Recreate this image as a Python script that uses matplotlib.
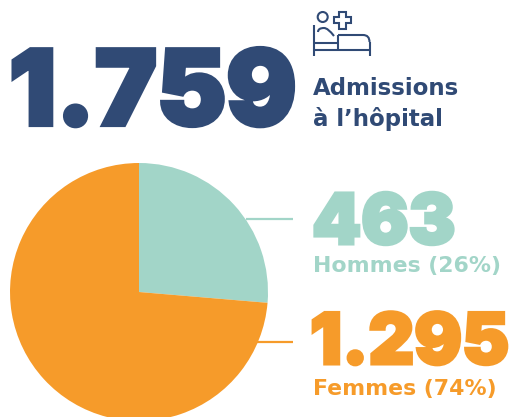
import matplotlib
matplotlib.use("Agg")
import matplotlib.pyplot as plt
import matplotlib.patheffects as pe
from matplotlib.patches import Circle, Polygon
from matplotlib.path import Path
from matplotlib.patches import PathPatch

W, H = 515, 417
NAVY = "#304a75"
TEAL = "#a2d5c8"
ORANGE = "#f69b2a"

categories = ["Hommes", "Femmes"]
values = [463, 1295]
colors = [TEAL, ORANGE]
total_label = "1.759"
title_lines = ["Admissions", "à l’hôpital"]
number_labels = ["463", "1.295"]
sub_labels = ["Hommes (26%)", "Femmes (74%)"]

fig = plt.figure(figsize=(W / 100, H / 100), dpi=100, facecolor="white")

# pie
R = 129
cx, cy = 139, 292
axp = fig.add_axes([(cx - R) / W, (H - cy - R) / H, 2 * R / W, 2 * R / H])
axp.pie(values, colors=colors, startangle=90, counterclock=False, radius=1,
        wedgeprops=dict(linewidth=0))
axp.set_xlim(-1, 1)
axp.set_ylim(-1, 1)
axp.set_aspect("equal")
axp.axis("off")

# overlay in pixel coordinates
ax = fig.add_axes([0, 0, 1, 1], facecolor="none")
ax.set_xlim(0, W)
ax.set_ylim(H, 0)
ax.axis("off")

def big(x, y, s, size, color, sw):
    return ax.text(x, y, s, fontsize=size, color=color, family=["Inter", "DejaVu Sans"],
                   fontweight="black", ha="left", va="baseline",
                   path_effects=[pe.withStroke(linewidth=sw, foreground=color, joinstyle="miter")])

def small(y, s, color, size=15.8):
    return ax.text(313, y, s, fontsize=size, color=color, family=["DejaVu Sans"],
                   fontweight="bold", va="baseline")

big(9, 125, total_label, 75, NAVY, 3.0)
big(312, 244, number_labels[0], 50.5, TEAL, 2.2)
big(310, 364, number_labels[1], 51, ORANGE, 2.2)

small(95, title_lines[0], NAVY, 16.5)
small(126, title_lines[1], NAVY, 16.5)
small(272, sub_labels[0], TEAL)
small(395, sub_labels[1], ORANGE)

# leader lines
ax.plot([246, 293], [219, 219], color=TEAL, lw=1.6, solid_capstyle="butt")
ax.plot([257, 293], [342, 342], color=ORANGE, lw=1.6, solid_capstyle="butt")

# bed icon
lw = 1.5
for xs, ys in [([313.5, 313.5], [25, 56]),
               ([313, 370], [50, 50]),
               ([369.5, 369.5], [42, 56]),
               ([313, 338], [43, 43]),
               ([338, 338], [35, 50])]:
    ax.plot(xs, ys, color=NAVY, lw=lw, solid_capstyle="butt")
ax.add_patch(PathPatch(Path([(338, 35), (363, 35), (369.5, 35), (369.5, 42)],
                            [Path.MOVETO, Path.LINETO, Path.CURVE3, Path.CURVE3]),
                       fc="none", ec=NAVY, lw=lw))
ax.add_patch(PathPatch(Path([(318, 32), (318, 28), (324, 28), (328, 28), (334, 36)],
                            [Path.MOVETO, Path.CURVE3, Path.CURVE3, Path.CURVE3, Path.CURVE3]),
                       fc="none", ec=NAVY, lw=lw))
ax.add_patch(Circle((322.7, 17), 5, fc="none", ec=NAVY, lw=lw))
a, b = 3.2, 8.5
c0x, c0y = 342.5, 20
cross = [(-a, -b), (a, -b), (a, -a), (b, -a), (b, a), (a, a), (a, b), (-a, b), (-a, a), (-b, a), (-b, -a), (-a, -a)]
ax.add_patch(Polygon([(c0x + u, c0y + v) for u, v in cross], closed=True, fc="none", ec=NAVY, lw=lw))

fig.savefig("out.png", dpi=100)
